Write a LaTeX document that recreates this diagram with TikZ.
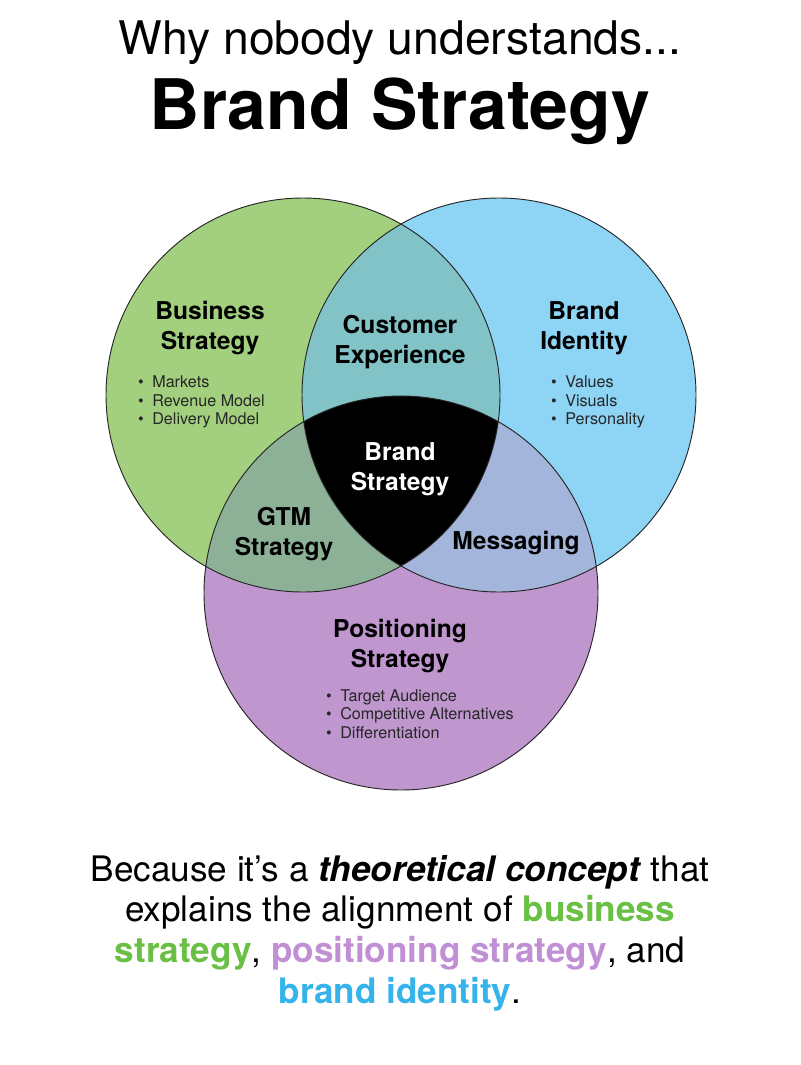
\documentclass[tikz,border=0pt]{standalone}
\usepackage{fontspec}
\setmainfont{TeX Gyre Heros}
\usetikzlibrary{positioning}
\definecolor{greenc}{HTML}{A3D07F}
\definecolor{bluec}{HTML}{8DD4F5}
\definecolor{purplec}{HTML}{BF97CE}
\definecolor{gbc}{HTML}{82C3C7}
\definecolor{gpc}{HTML}{8CB197}
\definecolor{bpc}{HTML}{A3B5DA}
\definecolor{greentx}{HTML}{6ABF45}
\definecolor{purpletx}{HTML}{C18FD6}
\definecolor{bluetx}{HTML}{36B3EA}
\newcommand{\bull}{\makebox[12pt][l]{•}}
\tikzset{
    ring/.style = {draw=black!85, line width=0.8pt},
    headnode/.style = {align=center, inner sep=0pt, font=\bfseries\fontsize{21}{25.6}\selectfont, text=black},
    headnodew/.style = {headnode, text=white},
    listnode/.style = {align=left, inner sep=0pt, anchor=west, font=\fontsize{13.8}{15.8}\selectfont, text=black!85},
    titlenode/.style = {align=center, inner sep=0pt, font=\fontsize{39.5}{44}\selectfont},
    titlenodeb/.style = {align=center, inner sep=0pt, font=\bfseries\fontsize{59.5}{62}\selectfont},
    footnode/.style = {align=center, inner sep=0pt, font=\fontsize{30}{34.7}\selectfont}
}

\begin{document}
\begin{tikzpicture}[x=0.03cm,y=-0.03cm]
\path[use as bounding box] (0,0) rectangle (800,1065);
%
\coordinate (cG) at (303,395);
\coordinate (cB) at (499,395);
\coordinate (cP) at (401,593);
%
\fill[greenc] (cG) circle[radius=197];
\fill[bluec] (cB) circle[radius=197];
\fill[purplec] (cP) circle[radius=197];
\begin{scope}
\clip (cG) circle[radius=197];
\fill[gbc] (cB) circle[radius=197];
\fill[gpc] (cP) circle[radius=197];
\end{scope}
\begin{scope}
\clip (cB) circle[radius=197];
\fill[bpc] (cP) circle[radius=197];
\clip (cG) circle[radius=197];
\fill[black] (cP) circle[radius=197];
\end{scope}
\draw[ring] (cG) circle[radius=197];
\draw[ring] (cB) circle[radius=197];
\draw[ring] (cP) circle[radius=197];
%
\node[titlenode] at (400,43) (why) {Why nobody understands...};
\node[titlenodeb] at (400,111) (title) {Brand Strategy};
%
\node[headnode] at (210,328) (bus) {Business\\Strategy};
\node[listnode] at (138,402) (buslist) {\bull Markets\\\bull Revenue Model\\\bull Delivery Model};
\node[headnode] at (400,342) (cx) {Customer\\Experience};
\node[headnode] at (584,328) (bid) {Brand\\Identity};
\node[listnode] at (551,402) (bidlist) {\bull Values\\\bull Visuals\\\bull Personality};
\node[headnodew] at (400,469) (bs) {Brand\\Strategy};
\node[headnode] at (284,534) (gtm) {GTM\\Strategy};
\node[headnode] at (516,543) (msg) {Messaging};
\node[headnode] at (400,646) (pos) {Positioning\\Strategy};
\node[listnode] at (326,714) (poslist) {\bull Target Audience\\\bull Competitive Alternatives\\\bull Differentiation};
%
\node[footnode] at (400,933) (foot) {Because it’s a \textbf{\textit{theoretical concept}} that\\
explains the alignment of \textcolor{greentx}{\textbf{business}}\\
\textcolor{greentx}{\textbf{strategy}}, \textcolor{purpletx}{\textbf{positioning strategy}}, and\\
\textcolor{bluetx}{\textbf{brand identity}}.};

\end{tikzpicture}
\end{document}
